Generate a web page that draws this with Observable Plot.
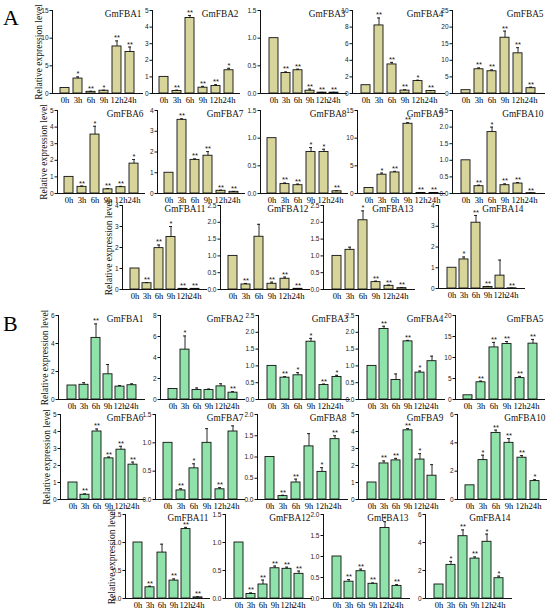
<!DOCTYPE html>
<html><head><meta charset="utf-8">
<script src="https://cdn.jsdelivr.net/npm/d3@7"></script>
<script src="https://cdn.jsdelivr.net/npm/@observablehq/plot@0.6"></script>
<style>
body{margin:0;background:#fff;}
#wrap{position:relative;width:550px;height:612px;overflow:hidden;background:#fff;}
.lbl{position:absolute;font-family:"Liberation Serif","DejaVu Serif",serif;font-size:22px;color:#000;line-height:1;}
</style></head><body>
<div id="wrap"><div class="lbl" style="left:3px;top:7px">A</div><div class="lbl" style="left:3px;top:313px">B</div></div>
<script>
const times = ["0h","3h","6h","9h","12h","24h"];
const genes = ["GmFBA1","GmFBA2","GmFBA3","GmFBA4","GmFBA5","GmFBA6","GmFBA7","GmFBA8","GmFBA9","GmFBA10","GmFBA11","GmFBA12","GmFBA13","GmFBA14"];
const yLabel = "Relative expression level";

// Panel A values (mean), errors (SD), significance stars, y-axis max and tick step
const aValues = [
  [1, 2.7, 0.3, 0.5, 8.5, 7.5],
  [1, 0.15, 4.55, 0.35, 0.45, 1.4],
  [1.0, 0.37, 0.42, 0.05, 0.015, 0.015],
  [1, 8.2, 3.5, 0.35, 1.5, 0.3],
  [1, 7.3, 6.7, 16.8, 12.1, 1.6],
  [1, 0.4, 3.55, 0.25, 0.38, 1.8],
  [1, 3.55, 1.62, 1.82, 0.13, 0.08],
  [1.0, 0.17, 0.15, 0.75, 0.75, 0.04],
  [1, 3.4, 3.8, 12.6, 0.1, 0.1],
  [1.0, 0.22, 1.85, 0.25, 0.3, 0.01],
  [1, 0.3, 1.97, 2.5, 0.03, 0.03],
  [1.0, 0.15, 1.57, 0.17, 0.32, 0.02],
  [1.0, 1.18, 2.06, 0.22, 0.11, 0.04],
  [1, 1.4, 3.17, 0.07, 0.62, 0.01]
];
const aErrors = [
  [0, 0.3, 0.1, 0.1, 1.0, 0.9],
  [0, 0.05, 0.15, 0.08, 0.08, 0.12],
  [0, 0.02, 0.02, 0.03, 0.005, 0.005],
  [0, 0.9, 0.25, 0.1, 0.1, 0.05],
  [0, 0.4, 0.4, 2.0, 1.7, 0.3],
  [0, 0.05, 0.5, 0.05, 0.05, 0.25],
  [0, 0.05, 0.05, 0.2, 0.03, 0.02],
  [0, 0.02, 0.02, 0.08, 0.05, 0.01],
  [0, 0.3, 0.2, 0.2, 0.05, 0.05],
  [0, 0.03, 0.15, 0.04, 0.03, 0.005],
  [0, 0.03, 0.15, 0.5, 0.01, 0.01],
  [0, 0.03, 0.37, 0.05, 0.05, 0.01],
  [0, 0.08, 0.28, 0.03, 0.02, 0.02],
  [0, 0.12, 0.35, 0.03, 0.75, 0.01]
];
const aStars = [
  ["", "*", "**", "*", "**", "**"],
  ["", "**", "**", "**", "**", "*"],
  ["", "**", "**", "**", "**", "**"],
  ["", "**", "**", "**", "*", "**"],
  ["", "**", "**", "**", "**", "**"],
  ["", "**", "*", "**", "**", "*"],
  ["", "**", "**", "**", "**", "**"],
  ["", "**", "**", "*", "*", "**"],
  ["", "*", "**", "**", "**", "**"],
  ["", "**", "*", "**", "**", "**"],
  ["", "**", "**", "*", "**", "**"],
  ["", "**", "", "**", "**", "**"],
  ["", "", "*", "**", "**", "**"],
  ["", "*", "**", "**", "", "**"]
];
const aYMax = [15, 5, 1.5, 10, 25, 5, 4, 1.5, 15, 2.5, 4, 2.5, 2.5, 4];
const aYStep = [5, 1, 0.5, 2, 5, 1, 1, 0.5, 5, 0.5, 1, 0.5, 0.5, 1];

// Panel B
const bValues = [
  [1, 1.05, 4.4, 1.8, 0.92, 1.02],
  [1, 4.75, 0.9, 0.9, 1.25, 0.65],
  [1.0, 0.65, 0.72, 1.72, 0.43, 0.67],
  [1.0, 2.1, 0.58, 1.73, 0.8, 1.14],
  [1, 4.1, 12.4, 13.2, 5.1, 13.3],
  [1, 0.28, 4.0, 2.42, 2.93, 2.05],
  [1.0, 0.16, 0.55, 1.0, 0.18, 1.2],
  [1.0, 0.08, 0.4, 1.25, 0.65, 1.42],
  [1, 2.12, 2.3, 4.07, 2.35, 1.4],
  [1, 2.78, 4.7, 4.0, 2.95, 1.3],
  [1.0, 0.2, 0.82, 0.32, 1.24, 0.02],
  [1.0, 0.08, 0.25, 0.54, 0.53, 0.44],
  [1.0, 0.4, 0.65, 0.35, 1.68, 0.3],
  [1, 2.4, 4.45, 2.85, 4.05, 1.45]
];
const bErrors = [
  [0, 0.15, 1.0, 0.7, 0.08, 0.1],
  [0, 1.3, 0.2, 0.1, 0.25, 0.1],
  [0, 0.03, 0.08, 0.1, 0.03, 0.05],
  [0, 0.08, 0.18, 0.03, 0.05, 0.15],
  [0, 0.3, 1.2, 0.6, 0.4, 1.0],
  [0, 0.05, 0.15, 0.08, 0.2, 0.15],
  [0, 0.03, 0.08, 0.25, 0.03, 0.1],
  [0, 0.02, 0.08, 0.3, 0.1, 0.08],
  [0, 0.15, 0.12, 0.1, 0.35, 0.65],
  [0, 0.35, 0.2, 0.3, 0.15, 0.1],
  [0, 0.02, 0.15, 0.03, 0.03, 0.01],
  [0, 0.02, 0.08, 0.04, 0.03, 0.05],
  [0, 0.05, 0.05, 0.02, 0.15, 0.03],
  [0, 0.25, 0.45, 0.12, 0.55, 0.15]
];
const bStars = [
  ["", "", "**", "", "", ""],
  ["", "*", "", "", "", "**"],
  ["", "**", "*", "*", "**", "*"],
  ["", "**", "", "**", "*", ""],
  ["", "**", "**", "**", "**", "**"],
  ["", "**", "**", "**", "**", "**"],
  ["", "**", "*", "", "**", ""],
  ["", "**", "**", "", "*", "**"],
  ["", "**", "**", "**", "*", ""],
  ["", "*", "**", "**", "**", "*"],
  ["", "**", "", "**", "**", "**"],
  ["", "**", "**", "**", "**", "**"],
  ["", "**", "**", "**", "*", "**"],
  ["", "*", "**", "**", "*", "*"]
];
const bYMax = [6, 8, 2.5, 2.5, 20, 5, 1.5, 2.0, 5, 6, 1.5, 1.5, 2.0, 6];
const bYStep = [2, 2, 0.5, 0.5, 5, 1, 0.5, 0.5, 1, 2, 0.5, 0.5, 0.5, 2];

// Layout (page pixels): [axis x, plot right, plot top, zero line]
const layoutA = [
  [52,143,10,93],[152,240,10,93],[260,347,10,93],[352,445,10,93],[452,545,10,93],
  [57,145,110,193],[157,245,110,193],[260,348,110,193],[357,445,110,193],[452,545,110,193],
  [122,207,205,289],[220,310,205,289],[323,415,205,289],[438,525,205,288]
];
const layoutB = [
  [58,145,315,399],[160,245,315,399],[258,350,315,399],[358,445,315,399],[455,545,315,399],
  [60,145,414,499],[155,245,414,499],[257,348,414,499],[358,445,414,499],[457,547,414,499],
  [125,210,514,598],[225,312,514,598],[323,410,514,598],[425,512,514,598]
];
const labelPanels = [0, 5, 10];

const SERIF = '"Liberation Serif","DejaVu Serif",serif';
const SANS = '"Liberation Sans",Arial,sans-serif';
const wrap = document.getElementById("wrap");

function panel(gene, vals, errs, stars, ymax, step, lay, fill, withLabel) {
  const data = times.map((t, i) => ({t, v: vals[i], e: errs[i], s: stars[i]}));
  const [x0, x1, top, zero] = lay;
  const ml = withLabel ? 40 : 24, mr = 3, mt = 8, mb = 16;
  const ticks = d3.range(0, ymax + step / 2, step);
  const fmt = step < 1 ? d3.format(".1f") : d3.format("d");
  const withErr = data.filter(d => d.e > 0);
  const svg = Plot.plot({
    width: x1 - x0 + ml + mr,
    height: zero - top + mt + mb,
    marginLeft: ml, marginRight: mr, marginTop: mt, marginBottom: mb,
    style: "background:transparent;overflow:visible;max-width:none;",
    x: {domain: times, paddingInner: 0.27, paddingOuter: 0.5, axis: null},
    y: {domain: [0, ymax], axis: null},
    marks: [
      Plot.barY(data, {x: "t", y: "v", fill, stroke: "#111", strokeWidth: 0.9}),
      Plot.ruleX(withErr, {x: "t", y1: "v", y2: d => d.v + d.e, stroke: "#111", strokeWidth: 0.9}),
      Plot.tickY(withErr, {x: "t", y: d => d.v + d.e, stroke: "#111", strokeWidth: 0.9, insetLeft: 3, insetRight: 3}),
      Plot.text(data.filter(d => d.s), {x: "t", y: d => d.v + d.e, text: "s", dy: -0.5, lineAnchor: "bottom", fontSize: 7.5, fontFamily: SANS, fill: "#111"}),
      Plot.frame({anchor: "left", stroke: "#111", strokeWidth: 1}),
      Plot.ruleY([0], {stroke: "#111", strokeWidth: 1}),
      Plot.axisY({ticks, tickFormat: fmt, tickSize: 2.5, tickPadding: 1.5, fontSize: 6.5, fontFamily: SANS, label: null, stroke: "#111", fill: "#222"}),
      Plot.axisX({tickSize: 0, tickPadding: 3, fontSize: 8.6, fontFamily: SERIF, label: null, fill: "#000"}),
      Plot.text([gene], {frameAnchor: "top-right", text: d => d, fontFamily: SERIF, fontSize: 9.3, lineAnchor: "middle", dy: 4, dx: -2, fill: "#111"}),
      withLabel ? Plot.text([yLabel], {frameAnchor: "left", text: d => d, rotate: -90, dx: -14, textAnchor: "middle", lineAnchor: "middle", fontSize: 9.5, fontFamily: SERIF, fill: "#111"}) : null
    ]
  });
  svg.style.position = "absolute";
  svg.style.left = (x0 - ml) + "px";
  svg.style.top = (top - mt) + "px";
  wrap.appendChild(svg);
}

genes.forEach((g, i) => panel(g, aValues[i], aErrors[i], aStars[i], aYMax[i], aYStep[i], layoutA[i], "#d8d59b", labelPanels.includes(i)));
genes.forEach((g, i) => panel(g, bValues[i], bErrors[i], bStars[i], bYMax[i], bYStep[i], layoutB[i], "#8fe2aa", labelPanels.includes(i)));
</script>
</body></html>
